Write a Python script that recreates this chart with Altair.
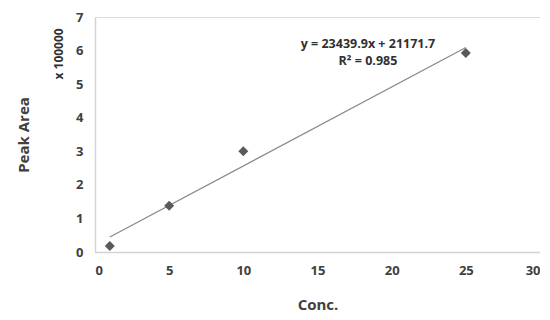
import altair as alt
import pandas as pd

conc = [1, 5, 10, 25]
peak_area = [0.18, 1.38, 3.0, 5.93]  # in units of 100000

eq_lines = ["y = 23439.9x + 21171.7", "R² = 0.985"]
eq_x = [18.4, 18.4]
eq_y = [6.21, 5.69]

x_ticks = [0, 5, 10, 15, 20, 25, 30]
y_ticks = [0, 1, 2, 3, 4, 5, 6, 7]

df = pd.DataFrame({"conc": conc, "area": peak_area})
ann = pd.DataFrame({"text": eq_lines, "x": eq_x, "y": eq_y})

FONT = "Open Sans"

xscale = alt.Scale(domain=[0, 30], nice=False)
yscale = alt.Scale(domain=[0, 7], nice=False)

xaxis = alt.Axis(title="Conc.", values=x_ticks, grid=False, ticks=False,
                 labelOverlap=False, labelBound=False,
                 domainColor="#d4d4d4", domainWidth=1.5, labelPadding=12,
                 labelFont=FONT, labelFontSize=13, labelFontWeight="bold", labelColor="#404040",
                 titleFont=FONT, titleFontSize=15, titleFontWeight="bold", titleColor="#404040",
                 titlePadding=20)
yaxis = alt.Axis(title="Peak Area", values=y_ticks, tickCount=8, grid=False, ticks=False,
                 labelOverlap=False, labelBound=False,
                 domainColor="#d4d4d4", domainWidth=1.5, labelPadding=12,
                 labelFont=FONT, labelFontSize=13, labelFontWeight="bold", labelColor="#404040",
                 titleFont=FONT, titleFontSize=15, titleFontWeight="bold", titleColor="#404040",
                 titlePadding=44)

base = alt.Chart(df)

points = base.mark_point(shape="diamond", filled=True, size=100, color="#5a5a5a", opacity=1).encode(
    x=alt.X("conc:Q", scale=xscale, axis=xaxis),
    y=alt.Y("area:Q", scale=yscale, axis=yaxis),
)

trend = base.transform_regression("conc", "area", extent=[1, 25]).mark_line(
    color="#8a8a8a", strokeWidth=1.3
).encode(x=alt.X("conc:Q", scale=xscale, axis=xaxis), y=alt.Y("area:Q", scale=yscale, axis=yaxis))

eq = alt.Chart(ann).mark_text(font=FONT, fontSize=12.5, fontWeight="bold", color="#303030").encode(
    x=alt.X("x:Q", scale=xscale, axis=xaxis), y=alt.Y("y:Q", scale=yscale, axis=yaxis), text="text:N"
)

mult = alt.Chart(pd.DataFrame({"t": ["x 100000"], "y": [5.9]})).mark_text(
    font=FONT, fontSize=12, fontWeight="bold", color="#303030", angle=270
).encode(x=alt.value(-36), y=alt.Y("y:Q", scale=yscale, axis=yaxis), text="t:N")

chart = alt.layer(trend, points, eq, mult).properties(
    width=445, height=235,
    autosize=alt.AutoSizeParams(type="none"),
    padding={"left": 87, "top": 9, "right": 0, "bottom": 60},
).configure_view(stroke=None).configure(background="white")

chart.save("out.html", embed_options={"renderer": "svg", "actions": False})
